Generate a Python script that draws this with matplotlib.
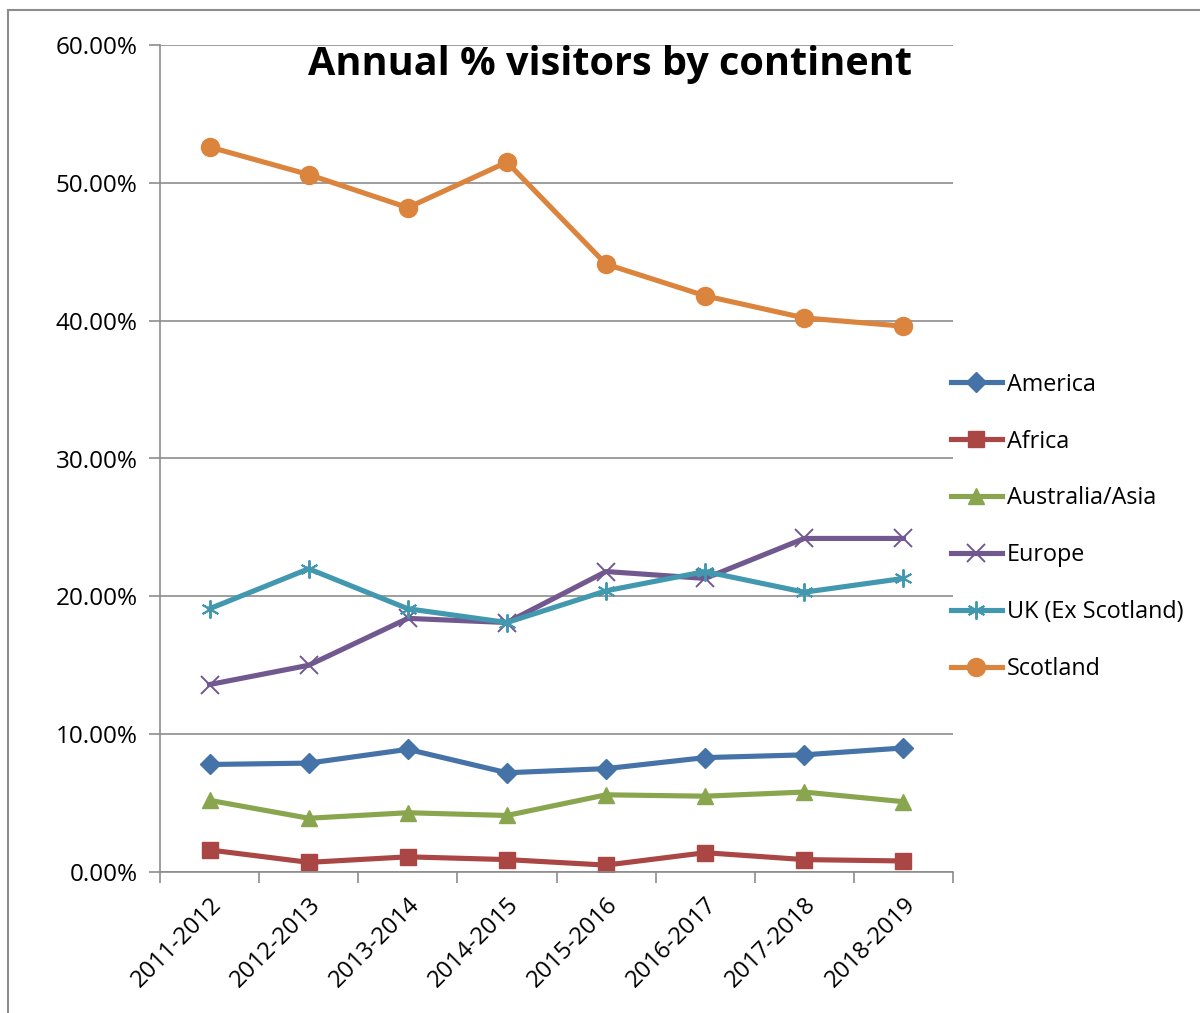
import matplotlib
matplotlib.use("Agg")
import matplotlib.pyplot as plt
from matplotlib.patches import Rectangle
from matplotlib.ticker import FuncFormatter, FixedLocator

plt.rcParams['font.family'] = ['Open Sans', 'DejaVu Sans']

years = ["2011-2012", "2012-2013", "2013-2014", "2014-2015",
         "2015-2016", "2016-2017", "2017-2018", "2018-2019"]
america = [7.8, 7.9, 8.9, 7.2, 7.5, 8.3, 8.5, 9.0]
africa = [1.6, 0.7, 1.1, 0.9, 0.5, 1.4, 0.9, 0.8]
australia_asia = [5.2, 3.9, 4.3, 4.1, 5.6, 5.5, 5.8, 5.1]
europe = [13.6, 15.0, 18.4, 18.1, 21.8, 21.3, 24.2, 24.2]
uk_ex_scotland = [19.1, 22.0, 19.1, 18.1, 20.4, 21.8, 20.3, 21.3]
scotland = [52.6, 50.6, 48.2, 51.5, 44.1, 41.8, 40.2, 39.6]

series = [
    ("America", america, '#4572A7', 'D', 10.5),
    ("Africa", africa, '#AA4643', 's', 12),
    ("Australia/Asia", australia_asia, '#89A54E', '^', 12),
    ("Europe", europe, '#71588F', 'x', 13),
    ("UK (Ex Scotland)", uk_ex_scotland, '#4198AF', '*', 13),
    ("Scotland", scotland, '#DB843D', 'o', 13),
]

W, H = 1200, 1013
fig = plt.figure(figsize=(W / 100, H / 100), dpi=100)
fig.patches.append(Rectangle((8 / W, -0.05), 1.2, 1 - 10 / H + 0.05,
                             transform=fig.transFigure, fill=False,
                             edgecolor='#8c8c8c', linewidth=1.5))

ax = fig.add_axes([160 / W, 1 - 872 / H, 793 / W, 827 / H])
x = list(range(len(years)))
grid_c = '#8c8c8c'
for name, vals, col, mk, ms in series:
    if mk == '*':
        ax.plot(x, vals, color=col, lw=3.7, marker=(6, 2, 0), ms=ms,
                mec=col, mew=1.4, label=name)
    elif mk == 'x':
        ax.plot(x, vals, color=col, lw=3.7, marker='x', ms=ms,
                mec=col, mew=1.4, label=name)
    else:
        ax.plot(x, vals, color=col, lw=3.7, marker=mk, ms=ms,
                mec=col, mfc=col, label=name)

ax.set_xlim(-0.5, len(years) - 0.5)
ax.set_ylim(0, 60)
ax.set_yticks([0, 10, 20, 30, 40, 50, 60])
ax.yaxis.set_major_formatter(FuncFormatter(lambda v, p: f"{v:.2f}%"))
ax.grid(axis='y', color=grid_c, lw=1.2)
ax.set_axisbelow(True)
ax.set_xticks(x)
ax.set_xticklabels(years, rotation=45, ha='right', va='top',
                   rotation_mode='anchor')
ax.xaxis.set_minor_locator(FixedLocator([i - 0.5 for i in range(len(years) + 1)]))
ax.tick_params(axis='x', which='major', length=0, pad=15, labelsize=17.2)
ax.tick_params(axis='x', which='minor', length=8, width=1.2, color=grid_c)
ax.tick_params(axis='y', length=8, width=1.2, color=grid_c, pad=8, labelsize=17.5)
for s in ['top', 'right']:
    ax.spines[s].set_visible(False)
for s in ['left', 'bottom']:
    ax.spines[s].set_color(grid_c)
    ax.spines[s].set_linewidth(1.2)

fig.text(610 / W, 1 - 65 / H, "Annual % visitors by continent",
         ha='center', va='center', fontsize=28.5, fontweight='bold')

leg = fig.legend(loc='upper left', bbox_to_anchor=(939 / W, 1 - 361 / H),
                 frameon=False, fontsize=16.8, labelspacing=1.41,
                 handlelength=2.2, handletextpad=0.2, borderpad=0)

fig.savefig("out.png", dpi=100)
